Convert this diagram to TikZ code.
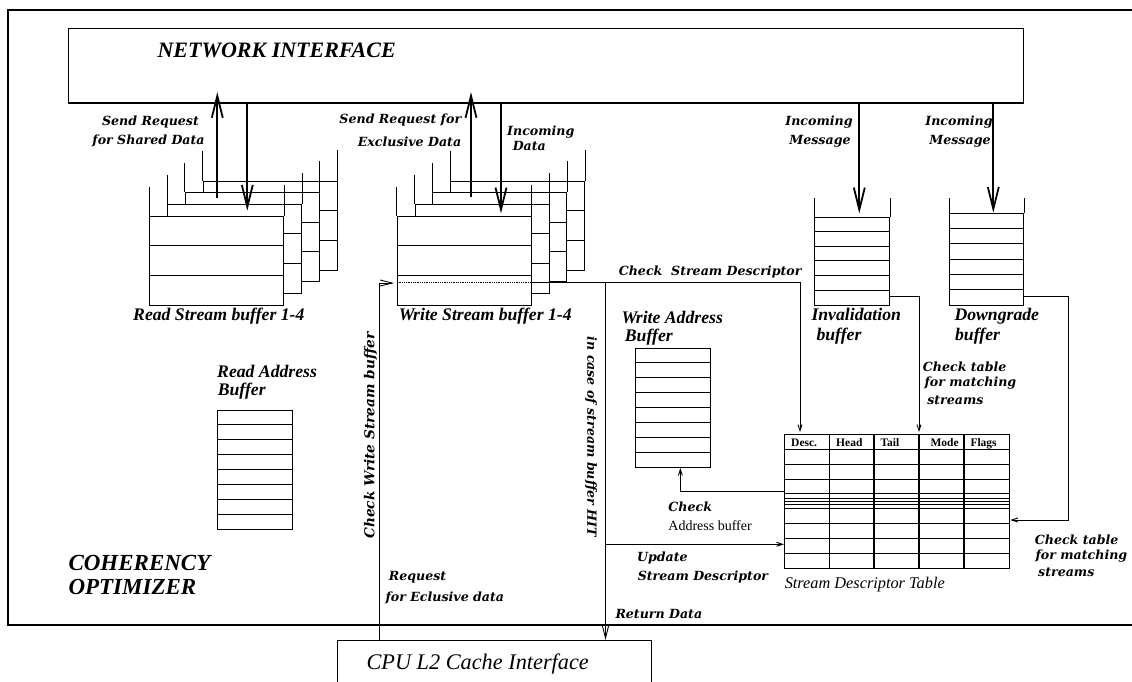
\documentclass[tikz,border=0pt]{standalone}
\usepackage{fontspec}
\setmainfont{Liberation Serif}
\newfontfamily\bkfont{DejaVu Serif}
\usetikzlibrary{arrows.meta}
\begin{document}
\begin{tikzpicture}[x=1pt,y=-1pt, line width=1pt,
  bufbox/.style={draw, fill=white, inner sep=0pt, anchor=north west, line width=1pt},
  bk/.style={font=\bkfont\bfseries\itshape\fontsize{12.6}{14}\selectfont, inner sep=0pt, anchor=base west},
  tmb/.style={font=\bfseries\itshape\fontsize{17.7}{19}\selectfont, inner sep=0pt, anchor=base west},
  thickarrow/.style={line width=1.8pt, -{Straight Barb[length=22pt,width=11pt]}},
  thinarrow/.style={line width=0.9pt, -{Straight Barb[length=6pt,width=4pt]}},
  midarrow/.style={line width=0.9pt, -{Straight Barb[length=12pt,width=6pt]}},
]
\useasboundingbox (0,0) rectangle (1132,682);

% outer frame (open to the right)
\draw[line width=1.1pt] (1140,10) -- (8,10) -- (8,625) -- (1140,625);

% network interface and CPU interface
\node[draw, inner sep=0pt, anchor=north west, minimum width=955pt, minimum height=74.5pt, line width=1.1pt] (ni) at (68,28) {};
\node[draw, inner sep=0pt, anchor=north west, minimum width=313.4pt, minimum height=60pt, line width=1.1pt] (cpu) at (337.3,640) {};

% stacked read / write stream buffers
\foreach \k in {3,2,1,0}{
  \pgfmathsetmacro\xx{149.3+17.8*\k}
  \pgfmathsetmacro\yy{216-11.8*\k}
  \node[bufbox, minimum width=134pt, minimum height=89pt] (rs\k) at (\xx,\yy) {};
  \draw (rs\k.north west) -- ++(0,-29.5);
  \draw (rs\k.north east) -- ++(0,-31);
  \draw (rs\k.north west) ++(0,29.7) -- ++(134,0);
  \draw (rs\k.north west) ++(0,59.4) -- ++(134,0);
  \pgfmathsetmacro\xw{396.7+17.8*\k}
  \node[bufbox, minimum width=134pt, minimum height=89pt] (ws\k) at (\xw,\yy) {};
  \draw (ws\k.north west) -- ++(0,-29.5);
  \draw (ws\k.north east) -- ++(0,-31);
  \draw (ws\k.north west) ++(0,29.7) -- ++(134,0);
  \draw (ws\k.north west) ++(0,59.4) -- ++(134,0);
}

% invalidation and downgrade buffers
\node[bufbox, minimum width=75pt, minimum height=88.3pt] (inv) at (814.3,216.7) {};
\draw (inv.north west) -- ++(0,-18.4);
\draw (inv.north east) -- ++(0,-18.4);
\foreach \i in {1,...,5}{\draw (inv.north west) ++(0,14.72*\i) -- ++(75,0);}
\node[bufbox, minimum width=74.3pt, minimum height=91.7pt] (dg) at (949,213.3) {};
\draw (dg.north west) -- ++(0,-15);
\draw (dg.north east) -- ++(0,-15);
\foreach \i in {1,...,5}{\draw (dg.north west) ++(0,15.28*\i) -- ++(74.3,0);}

% address buffers
\node[bufbox, minimum width=75pt, minimum height=119.3pt] (wab) at (635.3,347.7) {};
\foreach \i in {1,...,7}{\draw (wab.north west) ++(0,14.91*\i) -- ++(75,0);}
\node[bufbox, minimum width=75pt, minimum height=119.3pt] (rab) at (217.3,410) {};
\foreach \i in {1,...,7}{\draw (rab.north west) ++(0,14.91*\i) -- ++(75,0);}

% stream descriptor table
\node[draw, inner sep=0pt, anchor=north west, minimum width=225.3pt, minimum height=134.3pt, line width=1.1pt] (sdt) at (784,434) {};
\foreach \c in {829.3,874,919,964}{\draw[line width=1.1pt] (\c,434) -- (\c,568.3);}
\foreach \r in {449.3,464.3,479.3,493.3,498.8,501.5,504.2,508.3,523.3,538.3,553.3}{\draw[line width=1pt] (784,\r) -- (1009.3,\r);}
\begin{scope}[every node/.style={font=\bfseries\fontsize{11.5}{13}\selectfont, inner sep=0pt, anchor=base west}]
\node (hd1) at (790.7,446) {Desc.};
\node (hd2) at (835.7,446) {Head};
\node (hd3) at (880,446) {Tail};
\node (hd4) at (930,446) {Mode};
\node (hd5) at (970,446) {Flags};
\end{scope}

% arrows from / to network interface
\coordinate (rsUp) at (217.3,198);
\coordinate (rsDn) at (247.3,210.7);
\coordinate (wsUp) at (471,197.3);
\coordinate (wsDn) at (501,213.3);
\coordinate (invIn) at (859.3,213.3);
\coordinate (dgIn) at (993.3,212.7);
\draw[thickarrow] (rsUp) -- ([yshift=11.5pt]rsUp |- ni.south);
\draw[thickarrow] (ni.south -| rsDn) -- (rsDn);
\draw[thickarrow] (wsUp) -- ([yshift=11.5pt]wsUp |- ni.south);
\draw[thickarrow] (ni.south -| wsDn) -- (wsDn);
\draw[thickarrow] (ni.south -| invIn) -- (invIn);
\draw[thickarrow] (ni.south -| dgIn) -- (dgIn);

% internal connectors
\draw[densely dotted, line width=0.8pt] (ws0.west |- 0,282) -- (ws0.east |- 0,282);
\draw[thinarrow] (ws0.east |- 0,282) -| (800,432);
\draw[thinarrow] (inv.east |- 0,296.7) -| (919,432);
\draw[thinarrow] (dg.east |- 0,296.7) -- (1068,296.7) |- (sdt.east |- 0,520);
\coordinate (j1) at (605.5,282);
\draw[midarrow] (j1) -- (j1 |- cpu.north);
\draw[thinarrow] (605.5,544.3) -- (sdt.west |- 0,544.3);
\draw[thinarrow] (sdt.west |- 0,491) -| (wab.south -| 680.4,0);
\draw[midarrow] (cpu.north -| 379,0) -- (379,283) -- (394,283);

% labels (Times-like)
\node[font=\bfseries\itshape\fontsize{22}{24}\selectfont, inner sep=0pt, anchor=base west] (tni) at (157,58) {NETWORK INTERFACE};
\node[tmb] (trs) at (132.7,320) {Read Stream buffer 1-4};
\node[tmb] (tws) at (398.3,320) {Write Stream buffer 1-4};
\node[tmb] (trab1) at (216.7,377.7) {Read Address};
\node[tmb] (trab2) at (217.3,395) {Buffer};
\node[tmb] (twab1) at (621,323.3) {Write Address};
\node[tmb] (twab2) at (624.4,341.7) {Buffer};
\node[tmb] (tinv1) at (811,320.7) {Invalidation};
\node[tmb] (tinv2) at (816,340.7) {buffer};
\node[tmb] (tdg1) at (954,320.7) {Downgrade};
\node[tmb] (tdg2) at (954.6,340.7) {buffer};
\node[font=\bfseries\itshape\fontsize{23}{25}\selectfont, inner sep=0pt, anchor=base west] (tco1) at (68,570.7) {COHERENCY};
\node[font=\bfseries\itshape\fontsize{23}{25}\selectfont, inner sep=0pt, anchor=base west] (tco2) at (68,594) {OPTIMIZER};
\node[font=\itshape\fontsize{22.3}{24}\selectfont, inner sep=0pt, anchor=base west] (tcpu) at (366,669.3) {CPU L2 Cache Interface};
\node[font=\itshape\fontsize{16.3}{18}\selectfont, inner sep=0pt, anchor=base west] (tsdt) at (784.3,588.3) {Stream Descriptor Table};
\node[font=\fontsize{14}{16}\selectfont, inner sep=0pt, anchor=base west] (tcab2) at (667.9,530) {Address buffer};

% labels (Bookman-like)
\node[bk, anchor=base] (l1) at (150.5,126) {Send Request};
\node[bk, anchor=base] (l2) at (148.5,145) {for Shared Data};
\node[bk, anchor=base east] (l3) at (461.7,124) {Send Request for};
\node[bk, anchor=base east] (l4) at (461.7,146.7) {Exclusive Data};
\node[bk] (l5) at (506.7,135.7) {Incoming};
\node[bk] (l6) at (512.3,150) {Data};
\node[bk, anchor=base] (l7) at (819,125) {Incoming};
\node[bk, anchor=base] (l8) at (820,145) {Message};
\node[bk, anchor=base] (l9) at (959,125) {Incoming};
\node[bk, anchor=base] (l10) at (960,145) {Message};
\node[bk] (l11) at (618.3,275.7) {Check\ \ Stream Descriptor};
\node[bk] (l12) at (922.4,371.7) {Check table};
\node[bk] (l13) at (924,386.7) {for matching};
\node[bk] (l14) at (926.8,404) {streams};
\node[bk] (l15) at (1034.3,544.3) {Check table};
\node[bk] (l16) at (1035,559.3) {for matching};
\node[bk] (l17) at (1037.7,576.7) {streams};
\node[bk] (l18) at (667.9,511.7) {Check};
\node[bk] (l19) at (636.6,561.7) {Update};
\node[bk] (l20) at (637.3,580) {Stream Descriptor};
\node[bk] (l21) at (615,618.3) {Return Data};
\node[bk] (l22) at (388.3,580) {Request};
\node[bk] (l23) at (385,601.7) {for Eclusive data};
\node[bk, font=\bkfont\bfseries\itshape\fontsize{13.7}{15}\selectfont, anchor=center, rotate=90] (l24) at (370.5,435.7) {Check Write Stream buffer};
\node[bk, anchor=center, rotate=-90] (l25) at (591,436.7) {in case of stream buffer HIT};
\end{tikzpicture}
\end{document}
